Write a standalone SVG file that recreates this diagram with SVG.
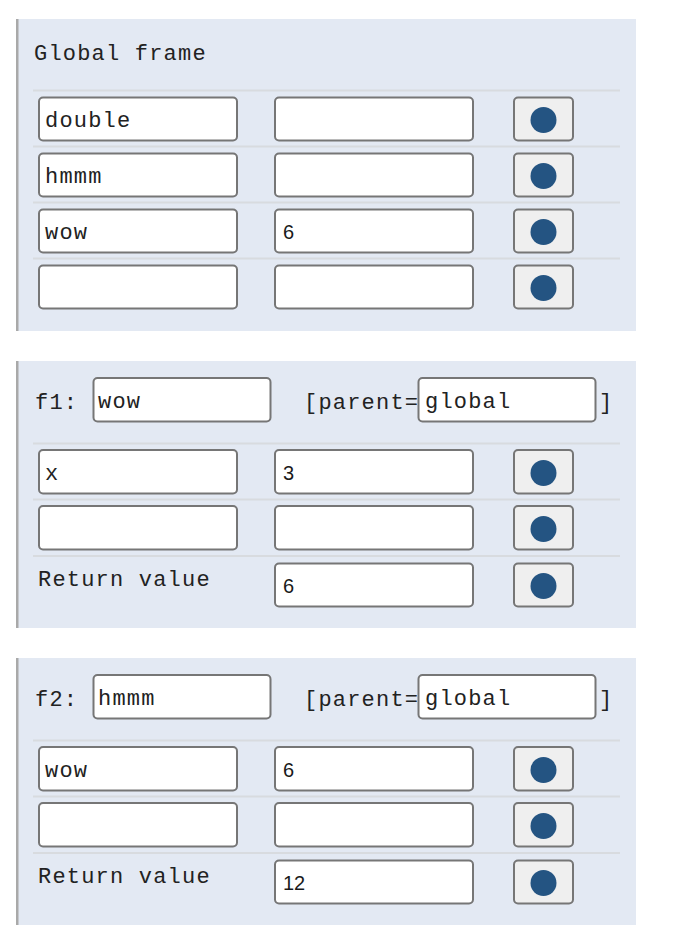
<svg xmlns="http://www.w3.org/2000/svg" width="678" height="952" viewBox="0 0 678 952">
<style>
.panel{fill:#e3e9f3}
.edge{fill:#a9a9a9}
.sep{stroke:#d8dbdf;stroke-width:2}
.box{fill:#ffffff;stroke:#767676;stroke-width:2}
.pbox{fill:#efefef;stroke:#767676;stroke-width:2}
.dot{fill:#245482}
.mono{font-family:"Liberation Mono","Courier New",monospace;font-size:22px;letter-spacing:1.2px;fill:#222222}
.val{font-family:"Liberation Sans",Arial,sans-serif;font-size:20px;fill:#1a1a1a}
</style>
<rect width="678" height="952" fill="#ffffff"/>

<g id="global-frame">
<rect class="panel" x="16" y="19" width="620" height="312"/>
<rect class="edge" x="16" y="19" width="2.5" height="312"/>
<text class="mono" x="34" y="60">Global frame</text>
<line class="sep" x1="33" y1="90.5" x2="620" y2="90.5"/>
<line class="sep" x1="33" y1="146.5" x2="620" y2="146.5"/>
<line class="sep" x1="33" y1="202.5" x2="620" y2="202.5"/>
<line class="sep" x1="33" y1="258.5" x2="620" y2="258.5"/>
<g id="g-row1">
<rect class="box" x="39" y="97.5" width="198" height="43" rx="4"/>
<rect class="box" x="275" y="97.5" width="198" height="43" rx="4"/>
<rect class="pbox" x="514" y="97.5" width="59" height="43" rx="4"/>
<circle class="dot" cx="543.5" cy="120" r="13"/>
<text class="mono" x="45" y="127">double</text>
</g>
<g id="g-row2">
<rect class="box" x="39" y="153.5" width="198" height="43" rx="4"/>
<rect class="box" x="275" y="153.5" width="198" height="43" rx="4"/>
<rect class="pbox" x="514" y="153.5" width="59" height="43" rx="4"/>
<circle class="dot" cx="543.5" cy="176" r="13"/>
<text class="mono" x="45" y="183">hmmm</text>
</g>
<g id="g-row3">
<rect class="box" x="39" y="209.5" width="198" height="43" rx="4"/>
<rect class="box" x="275" y="209.5" width="198" height="43" rx="4"/>
<rect class="pbox" x="514" y="209.5" width="59" height="43" rx="4"/>
<circle class="dot" cx="543.5" cy="232" r="13"/>
<text class="mono" x="45" y="239">wow</text>
<text class="val" x="283" y="239">6</text>
</g>
<g id="g-row4">
<rect class="box" x="39" y="265.5" width="198" height="43" rx="4"/>
<rect class="box" x="275" y="265.5" width="198" height="43" rx="4"/>
<rect class="pbox" x="514" y="265.5" width="59" height="43" rx="4"/>
<circle class="dot" cx="543.5" cy="288" r="13"/>
</g>
</g>

<g id="f1-frame">
<rect class="panel" x="16" y="361" width="620" height="267"/>
<rect class="edge" x="16" y="361" width="2.5" height="267"/>
<text class="mono" x="35" y="409">f1:</text>
<rect class="box" x="93.5" y="378" width="177" height="43.5" rx="4"/>
<text class="mono" x="98" y="408">wow</text>
<text class="mono" x="304" y="409">[parent=</text>
<rect class="box" x="418.5" y="378" width="177" height="43.5" rx="4"/>
<text class="mono" x="425" y="408">global</text>
<text class="mono" x="599" y="409">]</text>
<line class="sep" x1="33" y1="443.5" x2="620" y2="443.5"/>
<line class="sep" x1="33" y1="499.5" x2="620" y2="499.5"/>
<line class="sep" x1="33" y1="556" x2="620" y2="556"/>
<g id="f1-row1">
<rect class="box" x="39" y="450" width="198" height="43.5" rx="4"/>
<rect class="box" x="275" y="450" width="198" height="43.5" rx="4"/>
<rect class="pbox" x="514" y="450" width="59" height="43.5" rx="4"/>
<circle class="dot" cx="543.5" cy="473" r="13"/>
<text class="mono" x="45" y="480">x</text>
<text class="val" x="283" y="480">3</text>
</g>
<g id="f1-row2">
<rect class="box" x="39" y="506" width="198" height="43.5" rx="4"/>
<rect class="box" x="275" y="506" width="198" height="43.5" rx="4"/>
<rect class="pbox" x="514" y="506" width="59" height="43.5" rx="4"/>
<circle class="dot" cx="543.5" cy="529" r="13"/>
</g>
<g id="f1-return">
<text class="mono" x="38" y="586">Return value</text>
<rect class="box" x="275" y="563.5" width="198" height="43" rx="4"/>
<rect class="pbox" x="514" y="563.5" width="59" height="43" rx="4"/>
<circle class="dot" cx="543.5" cy="586" r="13"/>
<text class="val" x="283" y="593">6</text>
</g>
</g>

<g id="f2-frame">
<rect class="panel" x="16" y="658" width="620" height="267"/>
<rect class="edge" x="16" y="658" width="2.5" height="267"/>
<text class="mono" x="35" y="706">f2:</text>
<rect class="box" x="93.5" y="675" width="177" height="43.5" rx="4"/>
<text class="mono" x="98" y="705">hmmm</text>
<text class="mono" x="304" y="706">[parent=</text>
<rect class="box" x="418.5" y="675" width="177" height="43.5" rx="4"/>
<text class="mono" x="425" y="705">global</text>
<text class="mono" x="599" y="706">]</text>
<line class="sep" x1="33" y1="740.5" x2="620" y2="740.5"/>
<line class="sep" x1="33" y1="796.5" x2="620" y2="796.5"/>
<line class="sep" x1="33" y1="853" x2="620" y2="853"/>
<g id="f2-row1">
<rect class="box" x="39" y="747" width="198" height="43.5" rx="4"/>
<rect class="box" x="275" y="747" width="198" height="43.5" rx="4"/>
<rect class="pbox" x="514" y="747" width="59" height="43.5" rx="4"/>
<circle class="dot" cx="543.5" cy="770" r="13"/>
<text class="mono" x="45" y="777">wow</text>
<text class="val" x="283" y="777">6</text>
</g>
<g id="f2-row2">
<rect class="box" x="39" y="803" width="198" height="43.5" rx="4"/>
<rect class="box" x="275" y="803" width="198" height="43.5" rx="4"/>
<rect class="pbox" x="514" y="803" width="59" height="43.5" rx="4"/>
<circle class="dot" cx="543.5" cy="826" r="13"/>
</g>
<g id="f2-return">
<text class="mono" x="38" y="883">Return value</text>
<rect class="box" x="275" y="860.5" width="198" height="43" rx="4"/>
<rect class="pbox" x="514" y="860.5" width="59" height="43" rx="4"/>
<circle class="dot" cx="543.5" cy="883" r="13"/>
<text class="val" x="283" y="890">12</text>
</g>
</g>

<g id="connectors"/>
</svg>
